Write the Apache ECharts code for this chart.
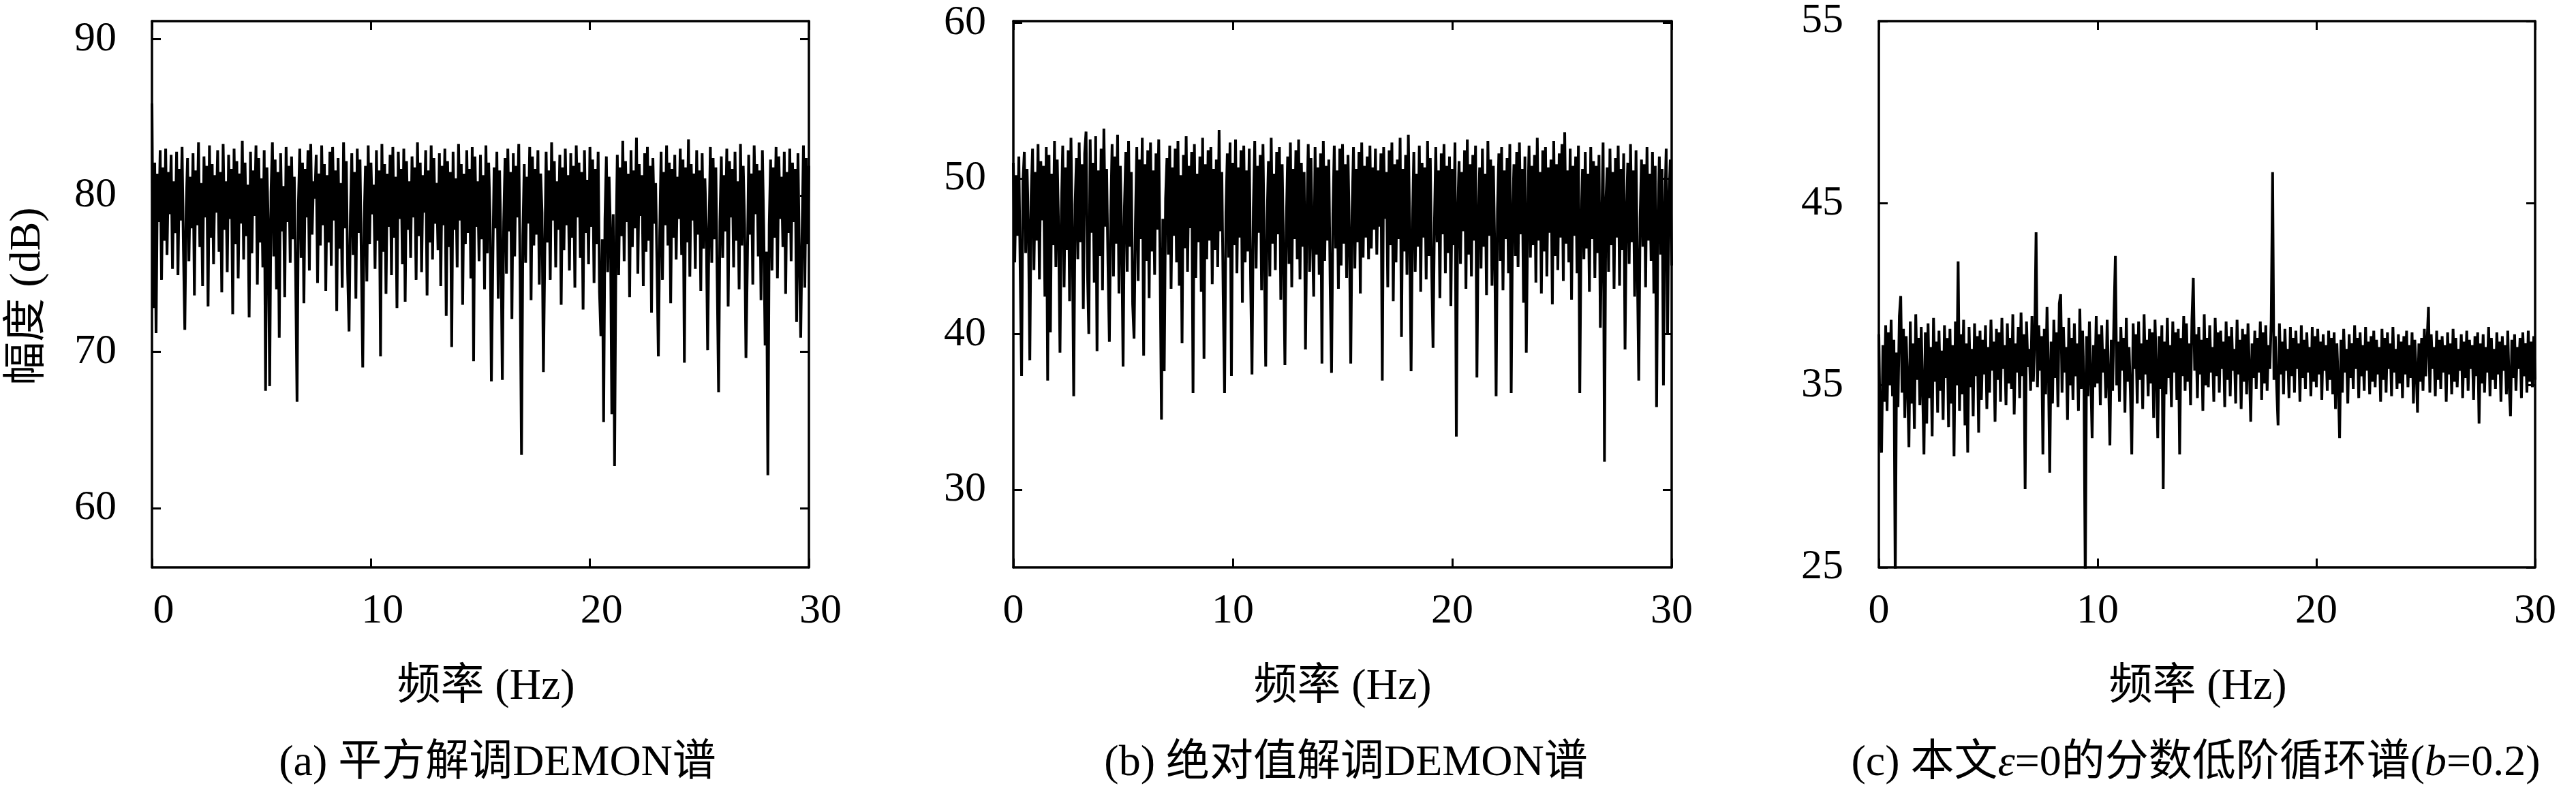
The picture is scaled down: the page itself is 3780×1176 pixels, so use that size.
<!DOCTYPE html>
<html>
<head>
<meta charset="utf-8">
<script src="https://cdn.jsdelivr.net/npm/echarts@6/dist/echarts.min.js"></script>
<style>
html,body{margin:0;padding:0;background:#fff;}
#c{width:3780px;height:1176px;}
</style>
</head>
<body>
<div id="c"></div>
<script>
// ---------- data ----------
const xTicks = [0, 10, 20, 30];
const yTicksA = [60, 70, 80, 90];
const yTicksB = [30, 40, 50, 60];
const yTicksC = [25, 35, 45, 55];

const xTitle = '频率 (Hz)';
const yTitle = '幅度 (dB)';
const captionA = '(a) 平方解调DEMON谱';
const captionB = '(b) 绝对值解调DEMON谱';

// (a) squared demodulation DEMON spectrum, 0..30 Hz
const valuesA = [
85.9,72.8,82.1,71.2,81.4,78.3,82.9,74.6,81.8,77.1,83.0,76.2,81.5,78.8,82.6,75.3,
80.9,77.6,82.8,74.9,81.7,78.4,83.1,76.5,71.4,79.2,82.4,75.8,81.2,77.9,82.7,73.6,
81.6,78.1,83.4,76.7,80.8,74.2,82.5,78.6,81.9,72.9,83.2,77.3,82.0,75.6,81.3,78.9,
82.9,76.4,81.5,73.8,83.3,77.8,80.9,75.1,82.6,78.5,81.7,72.4,83.0,76.9,82.2,74.7,
81.4,78.2,83.5,75.9,82.1,77.4,80.7,72.2,82.8,76.3,81.6,78.7,83.2,74.3,82.4,77.0,
81.1,75.4,82.9,67.5,81.8,78.0,67.8,80.2,83.4,76.1,82.3,74.0,81.5,70.9,82.7,77.7,
80.6,73.5,83.1,78.3,81.9,75.7,82.5,77.2,81.2,74.8,66.8,79.5,83.0,76.0,82.1,73.1,
81.7,78.6,82.9,75.2,83.3,77.5,80.9,79.8,82.6,74.4,81.4,76.8,83.2,78.1,82.0,73.9,
81.3,77.0,82.8,75.5,83.1,78.4,81.6,72.6,82.4,76.6,80.8,74.1,83.4,77.9,82.2,75.0,
71.3,78.7,82.7,76.2,81.5,73.4,83.0,77.6,82.3,75.8,69.0,78.2,81.9,74.5,83.2,76.9,
82.1,78.8,80.7,75.3,82.9,77.1,81.6,69.7,83.3,76.4,82.0,73.7,81.4,78.0,82.6,74.9,
83.1,77.3,81.2,72.8,82.8,78.5,81.7,75.6,83.0,73.2,82.2,77.8,80.9,76.0,82.5,78.6,
81.8,74.6,83.4,77.4,82.1,75.1,81.3,78.9,82.9,73.6,81.6,77.0,83.2,75.9,82.4,78.2,
80.8,76.5,82.7,74.2,81.9,78.1,83.0,72.3,82.2,76.7,81.5,70.3,82.8,77.8,81.1,75.4,
83.3,78.4,82.0,73.0,81.4,76.9,82.9,77.6,81.7,74.7,83.1,69.4,82.5,78.0,80.9,75.8,
82.6,77.2,81.3,74.0,83.2,76.3,82.1,78.7,68.1,75.5,81.8,77.9,82.8,73.4,81.6,76.6,
68.2,78.3,82.4,75.0,83.0,77.7,81.5,72.1,82.7,76.1,81.9,78.6,83.3,74.8,63.4,77.4,
82.0,75.7,81.2,78.2,83.1,73.3,82.5,76.8,81.7,77.5,82.9,74.3,81.4,78.9,68.7,76.2,
82.8,77.0,81.6,74.6,83.4,78.4,82.2,75.4,80.9,77.8,82.6,73.0,81.8,76.5,83.0,78.1,
81.3,75.2,82.7,77.3,81.9,74.1,83.2,78.6,82.1,76.0,81.5,72.7,82.9,77.6,81.0,75.6,
83.1,78.0,82.3,74.4,81.7,76.9,82.8,73.8,71.0,77.2,65.5,78.5,82.5,75.1,81.2,77.7,
66.0,78.8,62.7,76.3,82.6,74.9,81.8,77.4,83.5,75.8,82.2,78.3,81.4,73.5,82.9,76.7,
81.6,77.9,83.7,75.0,82.0,78.7,81.3,74.2,82.7,76.4,83.1,77.1,81.9,72.5,82.4,78.2,
80.8,75.5,69.7,77.6,82.8,74.6,81.5,78.1,83.2,76.8,82.1,73.1,81.7,77.3,82.6,75.9,
81.2,78.5,83.0,76.2,82.3,69.3,81.8,77.0,83.6,74.8,82.0,78.4,81.4,75.3,82.9,77.5,
81.6,73.9,82.7,76.6,81.1,78.0,70.1,77.8,83.1,75.7,82.4,77.2,81.8,74.5,67.4,78.3,
82.5,76.0,81.3,77.7,83.0,72.9,82.2,78.6,81.7,75.4,82.8,77.1,80.9,74.0,83.3,76.8,
81.9,78.2,69.6,75.6,82.6,77.5,81.4,74.3,83.2,78.8,82.0,76.1,81.6,73.3,82.9,77.9,
70.4,76.4,62.1,78.1,82.3,75.2,81.8,77.3,83.1,74.7,82.5,78.5,81.2,76.7,82.8,73.7,
81.5,77.6,83.0,75.8,82.1,78.3,81.7,71.9,82.7,76.2,70.9,77.4,83.2,74.1,82.4,76.9,
81.9
];

// (b) absolute-value demodulation DEMON spectrum
const valuesB = [
51.0,44.6,50.2,46.3,51.4,43.9,37.3,49.8,51.7,45.2,50.6,46.8,38.3,48.9,51.9,44.1,
50.4,46.0,52.2,43.5,51.1,47.3,50.8,42.4,52.0,37.0,51.5,40.1,50.3,45.7,52.4,44.3,
51.2,46.6,38.8,47.9,52.1,43.0,50.7,45.4,51.8,42.1,52.6,46.2,36.0,48.3,51.3,44.8,
52.3,45.9,50.9,41.6,51.6,53.0,44.2,40.0,52.5,46.5,51.0,43.3,52.7,38.9,50.5,45.0,
51.9,42.8,53.2,46.9,50.6,44.5,39.5,47.6,52.2,43.7,51.4,45.8,52.8,42.6,50.8,46.4,
37.9,48.2,51.7,44.0,52.4,45.6,50.4,41.9,39.7,47.1,52.0,43.4,51.2,46.1,52.6,38.6,
50.9,44.7,51.8,42.3,52.3,45.3,50.5,43.8,51.6,46.7,52.5,44.4,34.5,47.4,37.6,48.7,
51.3,45.1,52.1,42.9,50.7,46.3,51.9,44.6,52.4,43.1,50.2,39.4,51.5,45.5,52.7,44.0,
50.8,46.8,51.7,36.2,52.2,43.6,50.3,45.9,51.4,42.7,52.6,38.4,50.9,44.8,51.8,46.0,
52.0,43.2,50.6,45.4,51.2,44.3,53.1,46.6,50.4,42.5,36.2,47.8,51.6,44.9,52.3,37.3,
51.0,45.7,52.5,43.9,50.7,46.2,51.8,42.0,52.1,44.6,50.5,45.3,51.9,43.4,37.4,48.1,
52.4,44.2,50.8,46.5,51.5,42.8,52.2,45.0,37.9,47.3,51.1,43.7,52.6,45.8,50.3,44.1,
51.7,46.4,52.0,42.2,50.9,45.2,38.0,47.0,51.4,44.5,52.3,43.0,50.6,46.1,51.8,44.8,
52.5,43.5,51.0,45.6,50.4,39.0,47.5,52.2,44.0,51.3,46.3,42.4,52.0,45.1,50.7,43.8,
51.6,38.1,52.4,44.7,50.8,46.0,51.2,43.2,37.5,47.7,52.1,45.5,50.5,42.9,51.9,44.4,
52.2,45.8,50.9,43.6,51.5,46.4,38.1,47.9,52.0,44.2,50.6,45.9,51.7,42.6,52.3,44.9,
50.8,46.2,51.4,44.8,52.1,45.5,50.7,46.7,51.9,45.1,50.5,46.9,51.6,37.0,52.0,47.4,
50.4,43.0,51.8,45.7,52.3,42.1,50.9,44.6,51.2,46.1,52.6,39.8,50.6,45.3,51.5,43.8,
52.8,46.5,37.6,47.2,51.7,44.0,50.3,45.6,52.1,42.7,51.0,46.2,50.7,43.5,52.4,45.0,
51.3,44.3,39.1,47.0,52.0,45.9,50.5,42.3,51.6,46.4,52.2,43.9,50.8,45.2,51.4,41.8,
50.6,45.7,52.3,33.4,47.8,51.1,44.5,50.4,46.6,51.8,42.9,52.5,45.1,50.9,43.7,51.5,
46.0,52.1,37.2,47.5,50.7,44.2,51.9,45.6,50.3,42.5,52.4,46.3,51.2,43.1,50.8,45.4,
36.0,48.0,51.6,44.7,52.0,42.8,50.5,46.1,51.3,43.9,52.2,36.2,47.6,50.9,45.0,51.7,
44.3,52.3,46.4,50.6,42.0,51.4,38.8,47.3,52.1,44.9,50.8,45.7,51.5,43.3,52.6,46.0,
50.4,42.6,51.8,45.3,52.0,43.7,50.7,46.5,51.2,41.9,52.4,45.0,50.9,44.1,51.6,46.2,
52.2,43.4,52.95,45.8,50.5,44.6,51.9,42.2,50.8,46.3,51.4,43.9,52.1,36.2,47.1,50.6,
44.8,51.7,45.5,50.3,42.7,52.0,46.1,51.1,43.6,50.8,45.2,51.5,40.4,47.0,52.3,31.8,
48.4,50.7,44.0,51.9,45.7,50.4,42.9,51.3,46.2,52.1,43.1,50.6,45.4,51.6,39.0,47.7,
51.0,44.5,52.2,45.9,50.5,42.4,51.8,44.1,37.0,47.4,51.2,45.6,50.9,43.0,52.0,46.0,
50.3,44.7,51.7,42.6,50.8,35.3,47.2,51.4,45.1,50.6,36.7,47.9,51.9,40.0,48.6,51.2,
44.4
];

// (c) fractional lower-order cyclic spectrum (b=0.2)
const valuesC = [
37.8,32.3,31.3,37.2,34.1,38.3,33.6,37.9,35.0,38.6,34.4,37.5,24.0,36.8,33.8,38.8,
39.9,34.6,38.1,33.2,37.7,35.1,31.6,38.5,34.0,37.3,32.6,38.9,35.3,37.6,33.9,38.2,
34.8,31.2,37.9,32.9,38.4,34.3,37.1,32.2,38.7,35.2,37.4,33.5,38.0,34.7,36.9,33.1,
38.3,35.4,37.6,32.7,38.1,34.0,37.2,31.1,38.5,35.0,41.8,33.6,37.8,34.5,38.6,32.8,
37.3,31.3,38.2,34.9,37.0,33.3,38.4,35.5,37.7,32.4,38.0,34.2,37.5,35.6,38.3,33.7,
37.1,34.6,38.6,35.8,37.4,33.0,38.1,35.3,37.9,34.1,38.7,35.9,37.2,33.9,38.4,35.1,
37.6,34.8,38.9,33.4,37.3,35.7,38.2,34.3,39.0,35.5,37.8,29.3,38.5,36.0,37.0,34.7,
38.8,35.2,37.5,43.4,34.9,38.3,35.8,37.7,31.2,38.1,34.5,39.3,35.9,30.2,37.4,34.0,
38.6,35.4,37.9,33.8,39.5,40.0,34.6,38.2,35.7,37.1,33.1,38.7,35.0,37.6,34.2,38.4,
35.5,37.3,33.6,39.2,34.8,38.0,35.3,24.0,37.7,34.4,38.5,35.6,32.1,37.2,34.9,38.8,
35.1,37.8,33.9,38.3,35.7,37.0,34.3,38.6,35.4,31.7,37.5,34.7,38.9,42.1,35.0,37.4,
34.1,38.2,35.8,37.6,33.5,38.7,35.2,37.1,34.6,31.2,38.4,35.9,37.8,34.0,38.5,35.3,
37.3,33.7,38.9,35.6,37.5,34.4,38.1,35.1,37.9,33.2,38.6,35.8,32.1,37.7,34.8,38.3,
29.3,37.4,34.5,38.7,35.4,37.2,33.8,38.5,35.7,37.9,34.2,38.1,31.2,37.6,35.5,38.8,
34.7,38.4,35.2,37.3,33.9,38.6,40.9,35.8,37.8,34.3,38.2,35.6,37.5,33.6,38.9,35.0,
37.6,34.9,38.3,35.7,37.1,34.1,38.7,35.5,37.9,34.6,38.0,35.9,37.4,33.8,38.5,35.3,
37.7,34.4,38.2,35.8,37.0,34.0,38.6,35.6,37.5,33.7,38.1,35.2,37.8,34.5,38.4,35.9,
33.0,37.3,35.4,38.0,34.8,37.6,35.7,38.5,34.2,37.9,35.1,38.3,34.7,37.2,35.9,38.6,
46.7,35.3,37.7,34.9,32.8,38.4,35.6,37.4,34.5,38.1,35.8,37.0,34.3,38.2,35.5,37.6,
34.6,38.0,35.9,37.3,34.1,38.3,35.4,37.5,34.8,37.9,35.7,37.1,34.4,38.2,35.2,37.7,
34.9,38.1,35.6,37.4,34.2,37.8,35.8,37.2,34.7,38.0,35.3,37.6,34.5,37.9,33.7,37.3,
35.1,32.1,37.5,34.6,38.1,35.7,37.0,34.0,37.8,35.4,37.3,34.8,38.3,35.9,37.6,34.3,
37.9,35.5,37.2,34.7,38.2,35.8,37.4,34.5,37.7,35.2,38.0,34.9,37.5,35.6,37.1,34.1,
38.1,35.3,37.6,34.6,37.9,35.9,37.3,34.4,38.2,35.7,37.0,34.8,37.8,35.1,37.4,34.3,
37.7,35.6,38.0,34.9,37.2,35.4,37.9,34.0,37.5,35.8,33.5,37.3,35.2,37.6,34.7,38.1,
35.5,37.4,39.3,34.6,37.8,35.9,37.1,34.4,38.0,35.3,37.5,34.8,37.7,35.7,37.2,34.1,
37.9,35.6,37.3,34.5,38.1,35.2,37.6,34.9,37.0,35.8,37.8,34.3,37.4,35.4,38.0,34.7,
37.5,35.9,37.2,34.2,37.7,35.5,37.9,32.9,37.3,35.1,37.8,34.6,37.1,35.7,38.2,34.4,
37.6,35.3,37.0,34.8,37.9,35.6,37.4,34.1,37.7,35.8,37.2,34.5,38.0,35.0,33.3,37.5,
35.4,37.8,34.7,37.1,35.9,37.6,34.3,37.9,35.5,37.3,34.6,38.0,35.2,37.4,34.9,37.7,
35.3
];

// ---------- chart ----------
const F_MAX = 30;
function pairs(vals) {
  const n = vals.length;
  return vals.map((v, i) => [i * F_MAX / (n - 1), v]);
}

const SERIF = '"Liberation Serif", "Noto Sans CJK SC", serif';
const FS = 62;
const AX_W = 3.5;

const grids = [
  { left: 223, top: 31, width: 964, height: 802 },
  { left: 1487, top: 31, width: 966, height: 802 },
  { left: 2757, top: 30, width: 963, height: 803 }
];
const yRanges = [
  { min: 56.2, max: 91.16, ticks: yTicksA, margin: 52 },
  { min: 25, max: 60.1, ticks: yTicksB, margin: 40 },
  { min: 25, max: 55, ticks: yTicksC, margin: 52 }
];
const xLabelShift = [17, 0, 0];

const xAxis = [], yAxis = [], series = [];
const datasets = [valuesA, valuesB, valuesC];

grids.forEach((g, i) => {
  const tick = { show: true, inside: true, length: 13, lineStyle: { color: '#000', width: 3 } };
  const line = { show: true, onZero: false, lineStyle: { color: '#000', width: AX_W } };
  xAxis.push({
    type: 'value', gridIndex: i, position: 'bottom', min: 0, max: F_MAX, interval: 10,
    axisLine: line, axisTick: Object.assign({}, tick, { customValues: xTicks }), splitLine: { show: false },
    axisLabel: { customValues: xTicks, color: '#000', fontFamily: SERIF, fontSize: FS, margin: 34,
                 padding: xLabelShift[i] > 0 ? [0, 0, 0, 2 * xLabelShift[i]] : 0 }
  });
  xAxis.push({
    type: 'value', gridIndex: i, position: 'top', min: 0, max: F_MAX, interval: 10,
    axisLine: line, axisTick: Object.assign({}, tick, { customValues: xTicks }),
    axisLabel: { show: false }, splitLine: { show: false }
  });
  const yr = yRanges[i];
  yAxis.push({
    type: 'value', gridIndex: i, position: 'left', min: yr.min, max: yr.max,
    axisLine: line, axisTick: Object.assign({}, tick, { customValues: yr.ticks }), splitLine: { show: false },
    axisLabel: { customValues: yr.ticks, color: '#000', fontFamily: SERIF, fontSize: FS, margin: yr.margin }
  });
  yAxis.push({
    type: 'value', gridIndex: i, position: 'right', min: yr.min, max: yr.max,
    axisLine: line, axisTick: Object.assign({}, tick, { customValues: yr.ticks }),
    axisLabel: { show: false }, splitLine: { show: false }
  });
  series.push({
    type: 'line', xAxisIndex: 2 * i, yAxisIndex: 2 * i, data: pairs(datasets[i]),
    showSymbol: false, symbol: 'none', clip: true,
    lineStyle: { color: '#000', width: 4, join: 'miter', miterLimit: 2 }, silent: true
  });
});

const txt = (x, y, text, extra) => Object.assign({
  type: 'text', x: x, y: y,
  style: Object.assign({ text: text, fill: '#000', font: FS + 'px ' + SERIF, align: 'center', verticalAlign: 'middle' }, extra || {})
});

const graphic = [
  txt(713, 1009, xTitle, { font: '64px ' + SERIF }),
  txt(1970, 1009, xTitle, { font: '64px ' + SERIF }),
  txt(3225, 1009, xTitle, { font: '64px ' + SERIF }),
  Object.assign(txt(41, 435, yTitle, { font: '64px ' + SERIF }), { rotation: Math.PI / 2 }),
  txt(730, 1121, captionA, { font: '64px ' + SERIF }),
  txt(1975, 1121, captionB, { font: '64px ' + SERIF }),
  {
    type: 'text', x: 3222, y: 1121,
    style: {
      text: '{n|(c) 本文}{i|ε}{n|=0的分数低阶循环谱(}{i|b}{n|=0.2)}',
      align: 'center', verticalAlign: 'middle',
      rich: {
        n: { fontFamily: SERIF, fontSize: 64, fill: '#000' },
        i: { fontFamily: SERIF, fontSize: 64, fill: '#000', fontStyle: 'italic' }
      }
    }
  }
];

const chart = echarts.init(document.getElementById('c'), null, { renderer: 'canvas' });
chart.setOption({
  animation: false,
  backgroundColor: '#fff',
  grid: grids.map(g => Object.assign({ show: false, containLabel: false }, g)),
  xAxis: xAxis,
  yAxis: yAxis,
  series: series,
  graphic: graphic
});
</script>
</body>
</html>
